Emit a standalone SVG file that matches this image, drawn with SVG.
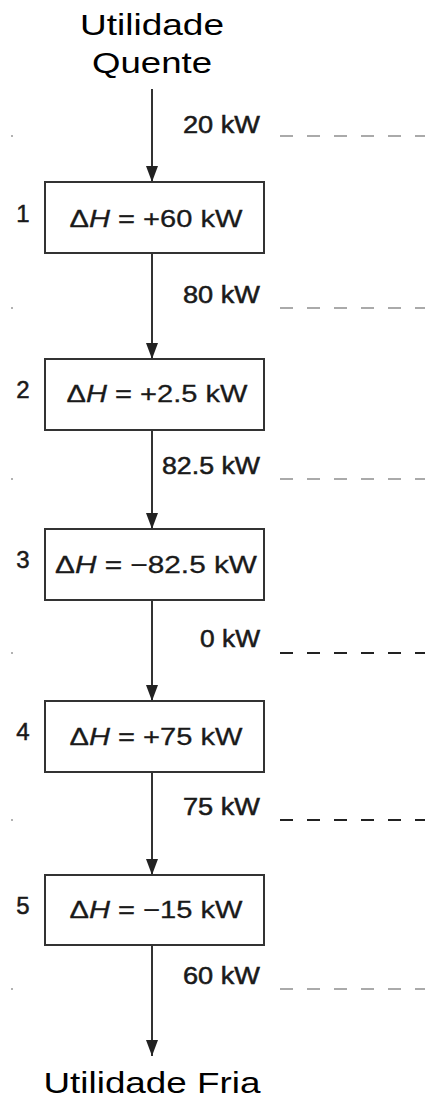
<svg xmlns="http://www.w3.org/2000/svg" width="425" height="1100" viewBox="0 0 425 1100">
<style>
.t{font-family:"Liberation Sans",Arial,sans-serif;fill:#1a1a1a}
.title{font-size:30px;fill:#000}
.lbl{font-size:23px;stroke:#1a1a1a;stroke-width:0.5;text-anchor:end}
.num{font-size:24px;stroke:#1a1a1a;stroke-width:0.5;text-anchor:middle}
.eq{font-size:24px;stroke:#1a1a1a;stroke-width:0.3;text-anchor:middle}
.box{fill:#fff;stroke:#333;stroke-width:2}
.flow{stroke:#333;stroke-width:2;fill:none;marker-end:url(#ah)}
.dl{stroke:#aaa;stroke-width:2;stroke-dasharray:13 14}
.dd{stroke:#222;stroke-width:2;stroke-dasharray:13 14}
.dot{fill:#999}
</style>
<defs>
<marker id="ah" markerWidth="16" markerHeight="12" refX="16" refY="6" orient="auto" markerUnits="userSpaceOnUse" viewBox="0 0 16 12">
<path d="M0,0 L16,6 L0,12 Z" fill="#222"/>
</marker>
</defs>

<g id="levels">
<line class="dl" x1="280" y1="136" x2="425" y2="136"/>
<line class="dl" x1="280" y1="308" x2="425" y2="308"/>
<line class="dl" x1="280" y1="479" x2="425" y2="479"/>
<line class="dd" x1="280" y1="653" x2="425" y2="653"/>
<line class="dd" x1="280" y1="820" x2="425" y2="820"/>
<line class="dl" x1="280" y1="989" x2="425" y2="989"/>
<circle class="dot" cx="12" cy="136" r="1"/>
<circle class="dot" cx="12" cy="308" r="1"/>
<circle class="dot" cx="12" cy="479" r="1"/>
<circle class="dot" cx="12" cy="653" r="1"/>
<circle class="dot" cx="12" cy="820" r="1"/>
<circle class="dot" cx="12" cy="989" r="1"/>
</g>

<g id="connectors">
<path class="flow" d="M152,89 V182"/>
<path class="flow" d="M152,253 V359"/>
<path class="flow" d="M152,430 V529"/>
<path class="flow" d="M152,600 V701"/>
<path class="flow" d="M152,772 V875"/>
<path class="flow" d="M152,945 V1056"/>
<text class="t lbl" x="260" y="133" textLength="77" lengthAdjust="spacingAndGlyphs">20 kW</text>
<text class="t lbl" x="260" y="303" textLength="77" lengthAdjust="spacingAndGlyphs">80 kW</text>
<text class="t lbl" x="260" y="474" textLength="98" lengthAdjust="spacingAndGlyphs">82.5 kW</text>
<text class="t lbl" x="260" y="647" textLength="60" lengthAdjust="spacingAndGlyphs">0 kW</text>
<text class="t lbl" x="260" y="815" textLength="77" lengthAdjust="spacingAndGlyphs">75 kW</text>
<text class="t lbl" x="260" y="984" textLength="77" lengthAdjust="spacingAndGlyphs">60 kW</text>
</g>

<g id="hot-utility">
<text class="t title" x="152" y="35" text-anchor="middle" textLength="144" lengthAdjust="spacingAndGlyphs">Utilidade</text>
<text class="t title" x="152" y="73" text-anchor="middle" textLength="120" lengthAdjust="spacingAndGlyphs">Quente</text>
</g>

<g id="interval-1">
<rect class="box" x="45" y="182" width="219" height="71"/>
<text class="t num" x="23" y="222">1</text>
<text class="t eq" x="156" y="227" textLength="173" lengthAdjust="spacingAndGlyphs">Δ<tspan font-style="italic">H</tspan> = +60 kW</text>
</g>
<g id="interval-2">
<rect class="box" x="45" y="359" width="219" height="71"/>
<text class="t num" x="23" y="398">2</text>
<text class="t eq" x="157" y="402" textLength="181" lengthAdjust="spacingAndGlyphs">Δ<tspan font-style="italic">H</tspan> = +2.5 kW</text>
</g>
<g id="interval-3">
<rect class="box" x="45" y="529" width="219" height="71"/>
<text class="t num" x="23" y="568">3</text>
<text class="t eq" x="156" y="573" textLength="202" lengthAdjust="spacingAndGlyphs">Δ<tspan font-style="italic">H</tspan> = −82.5 kW</text>
</g>
<g id="interval-4">
<rect class="box" x="45" y="701" width="219" height="71"/>
<text class="t num" x="23" y="740">4</text>
<text class="t eq" x="156" y="745" textLength="173" lengthAdjust="spacingAndGlyphs">Δ<tspan font-style="italic">H</tspan> = +75 kW</text>
</g>
<g id="interval-5">
<rect class="box" x="45" y="875" width="219" height="70"/>
<text class="t num" x="23" y="914">5</text>
<text class="t eq" x="156" y="918" textLength="173" lengthAdjust="spacingAndGlyphs">Δ<tspan font-style="italic">H</tspan> = −15 kW</text>
</g>

<g id="cold-utility">
<text class="t title" x="152" y="1093" text-anchor="middle" textLength="217" lengthAdjust="spacingAndGlyphs">Utilidade Fria</text>
</g>
</svg>
